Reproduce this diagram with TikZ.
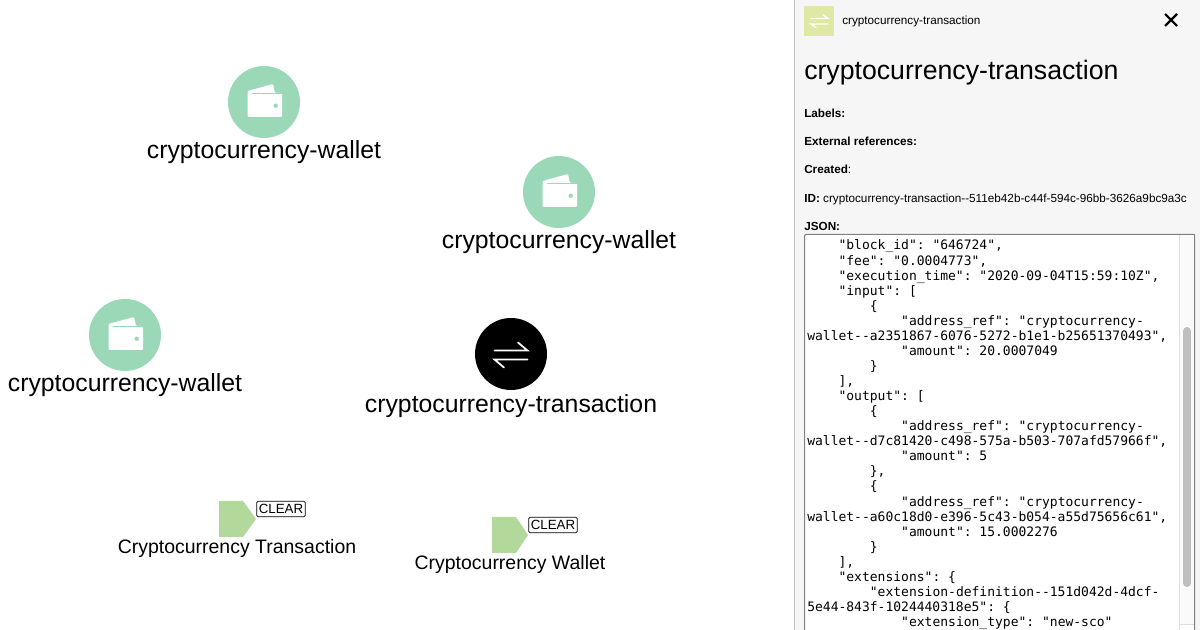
\documentclass[tikz,border=0pt]{standalone}
\usepackage{fontspec}
\setmainfont{Liberation Sans}
\setmonofont{DejaVu Sans Mono}
\usepackage{xcolor}
\definecolor{walletgreen}{HTML}{9BD8B8}
\definecolor{legendgreen}{HTML}{B3D89B}
\definecolor{panelgray}{HTML}{F6F6F6}
\definecolor{headgreen}{HTML}{DFE8A5}
\tikzset{
  bignode/.style={circle, minimum size=54pt, inner sep=0pt},
  biglabel/.style={font=\fontsize{18.6}{20}\selectfont, inner sep=0pt, anchor=base},
  legendlabel/.style={font=\fontsize{14.6}{16}\selectfont, inner sep=0pt, anchor=base},
  clearbox/.style={draw=black, rounded corners=1pt, line width=0.6pt, fill=white, font=\fontsize{10}{11}\selectfont, inner sep=0pt, minimum width=36.5pt, minimum height=11.5pt},
  headlabel/.style={font=\bfseries\fontsize{8.8}{10}\selectfont, inner sep=0pt, anchor=base west},
  jsonline/.style={font=\ttfamily\fontsize{9.75}{11}\selectfont, inner sep=0pt, anchor=base west},
}
\begin{document}
\begin{tikzpicture}[x=0.75pt, y=-0.75pt]
\useasboundingbox (0,0) rectangle (1200,630);
\fill[white] (0,0) rectangle (1200,630);

% graph nodes
\foreach \nm/\x/\y in {one/264/102, two/559/192, three/125/335}{
\node[bignode, fill=walletgreen] (wallet\nm) at (\x,\y) {};
\node[biglabel] (walletlabel\nm) at (\x,\y+56.5) {cryptocurrency-wallet};
\fill[white, rounded corners=0.8pt] (\x-16.5,\y-11) -- (\x+9,\y-18) -- (\x+11,\y-9) -- (\x+18,\y-9) -- (\x+18,\y+15) -- (\x-16.5,\y+15) -- cycle;
\draw[walletgreen, line width=0.7pt] (\x-12,\y-9) -- (\x+18,\y-9);
\fill[walletgreen] (\x+11.7,\y+3.7) circle (2.2);
}
\node[bignode, fill=black] (transaction) at (511,354) {};
\node[biglabel] (transactionlabel) at (511,412.5) {cryptocurrency-transaction};
\draw[white, line width=1.3pt, line cap=round] (494.5,350.5) -- (527.5,350.5) -- (518,342.5);
\draw[white, line width=1.3pt, line cap=round] (527.5,359.5) -- (494.5,359.5) -- (504,367.5);

% legend
\fill[legendgreen] (219,501) -- (243,501) -- (256,519) -- (243,537) -- (219,537) -- cycle;
\node[clearbox] (cleartransaction) at (281,509) {CLEAR};
\node[legendlabel] (legendtransaction) at (237,554) {Cryptocurrency Transaction};
\fill[legendgreen] (492,517) -- (516,517) -- (528,535) -- (516,553) -- (492,553) -- cycle;
\node[clearbox] (clearwallet) at (553,525) {CLEAR};
\node[legendlabel] (legendwallet) at (510,570) {Cryptocurrency Wallet};

% side panel
\fill[panelgray] (794,0) rectangle (1200,630);
\draw[gray!50, line width=0.75pt] (794,0) -- (794,630);
\fill[headgreen] (804,6) rectangle (834,36);
\draw[white, line width=1pt, line cap=round] (811,18.5) -- (828,18.5) -- (823,15);
\draw[white, line width=1pt, line cap=round] (828,24) -- (811,24) -- (816,27.5);
\node[font=\fontsize{8.8}{10}\selectfont, inner sep=0pt, anchor=base west] (headtitle) at (842,25) {cryptocurrency-transaction};
\draw[black, line width=1.6pt] (1165,14) -- (1177,26) (1177,14) -- (1165,26);
\node[font=\fontsize{20}{22}\selectfont, inner sep=0pt, anchor=base west] (paneltitle) at (804,80) {cryptocurrency-transaction};
\node[headlabel] (labels) at (804,118) {Labels:};
\node[headlabel] (extrefs) at (804,146) {External references:};
\node[headlabel] (created) at (804,174) {Created\textmd{:}};
\node[headlabel] (idline) at (804,203) {ID: \textmd{cryptocurrency-transaction-{}-511eb42b-c44f-594c-96bb-3626a9bc9a3c}};
\node[headlabel] (jsonlabel) at (804,231) {JSON:};

% json box
\draw[gray, line width=0.75pt, fill=white, rounded corners=1pt] (804.5,234.5) rectangle (1194.5,640);
\begin{scope}
\clip (805,235) rectangle (1194,630);
\foreach \n/\ind/\s in {
0/4/{"block\_id": "646724",},
1/4/{"fee": "0.0004773",},
2/4/{"execution\_time": "2020-09-04T15:59:10Z",},
3/4/{"input": [},
4/8/{\{},
5/12/{"address\_ref": "cryptocurrency-},
6/0/{wallet-{}-a2351867-6076-5272-b1e1-b25651370493",},
7/12/{"amount": 20.0007049},
8/8/{\}},
9/4/{],},
10/4/{"output": [},
11/8/{\{},
12/12/{"address\_ref": "cryptocurrency-},
13/0/{wallet-{}-d7c81420-c498-575a-b503-707afd57966f",},
14/12/{"amount": 5},
15/8/{\},},
16/8/{\{},
17/12/{"address\_ref": "cryptocurrency-},
18/0/{wallet-{}-a60c18d0-e396-5c43-b054-a55d75656c61",},
19/12/{"amount": 15.0002276},
20/8/{\}},
21/4/{],},
22/4/{"extensions": \{},
23/8/{"extension-definition-{}-151d042d-4dcf-},
24/0/{5e44-843f-1024440318e5": \{},
25/12/{"extension\_type": "new-sco"},
26/8/{\}}}{
\node[jsonline] (jsonline\n) at (807+7.83*\ind,250+15.06*\n) {\s};
}
\end{scope}
% scrollbar
\fill[black!2] (1180,235) rectangle (1194,624);
\fill[white] (1180,624) rectangle (1194,630);
\draw[gray!25, line width=0.5pt] (1179.5,235) -- (1179.5,630) (1180,624) -- (1194,624);
\draw[black!25, line width=6pt, line cap=round] (1187,331) -- (1187,583);
\draw[gray, line width=0.75pt] (1194.5,234.5) -- (1194.5,630);
\end{tikzpicture}
\end{document}
